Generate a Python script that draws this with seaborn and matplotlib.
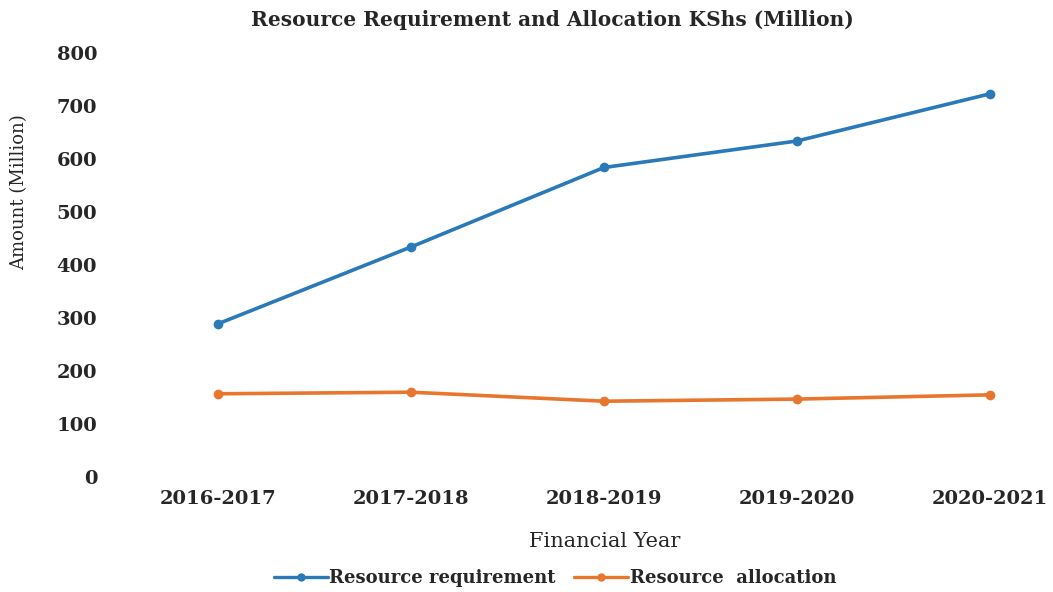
import matplotlib
matplotlib.use("Agg")
import matplotlib.pyplot as plt
import seaborn as sns
import pandas as pd

# Financial years and amounts in KShs (Million)
years = ["2016-2017", "2017-2018", "2018-2019", "2019-2020", "2020-2021"]
requirement = [289, 434, 584, 634, 723]
allocation = [157, 160, 143, 147, 155]
series_names = ["Resource requirement", "Resource  allocation"]
y_ticks = [0, 100, 200, 300, 400, 500, 600, 700, 800]

sns.set_theme(style="white")
plt.rcParams["font.family"] = ["DejaVu Serif"]

df = pd.DataFrame({
    "Financial Year": years * 2,
    "Amount": requirement + allocation,
    "Series": [series_names[0]] * len(years) + [series_names[1]] * len(years),
})

fig = plt.figure(figsize=(10.53, 5.92), dpi=100)
W, H = 1053, 592
ax = fig.add_axes([150 / W, (H - 477) / H, (1040 - 150) / W, (477 - 53) / H])

palette = {series_names[0]: "#2a79b8", series_names[1]: "#e8762d"}
sns.lineplot(data=df, x="Financial Year", y="Amount", hue="Series",
             palette=palette, marker="o", markersize=7, linewidth=2.6,
             markeredgewidth=0, sort=False, ax=ax, legend=False)

ax.set_ylim(0, 800)
ax.set_yticks(y_ticks)
ax.set_xlim(-0.352, 4.259)
for s in ax.spines.values():
    s.set_visible(False)
ax.tick_params(axis="both", length=0, labelsize=14, colors="#262626")
ax.tick_params(axis="y", pad=38)
ax.tick_params(axis="x", pad=9)
for lab in ax.get_xticklabels() + ax.get_yticklabels():
    lab.set_fontweight("bold")

ax.set_xlabel("Financial Year", fontsize=15, color="#262626")
ax.xaxis.set_label_coords((605 - 150) / (1040 - 150), -(532 - 477) / (477 - 53))
ax.set_ylabel("Amount (Million)", fontsize=13, color="#262626")
ax.yaxis.set_label_coords(-(150 - 28) / (1040 - 150), (477 - 192) / (477 - 53))

fig.text(552 / W, 1 - 20 / H, "Resource Requirement and Allocation KShs (Million)",
         ha="center", va="center", fontsize=14.5, fontweight="bold", color="#262626")

handles = [plt.Line2D([], [], color=palette[n], marker="o", markersize=6,
                      linewidth=2.4, markeredgewidth=0) for n in series_names]
fig.legend(handles, series_names, loc="center", bbox_to_anchor=(555 / W, 1 - 578 / H),
           ncol=2, frameon=False, handlelength=3.0, handletextpad=0.1,
           columnspacing=1.0, prop={"size": 13, "weight": "bold"},
           labelcolor="#262626")

fig.savefig("out.png", dpi=100)
